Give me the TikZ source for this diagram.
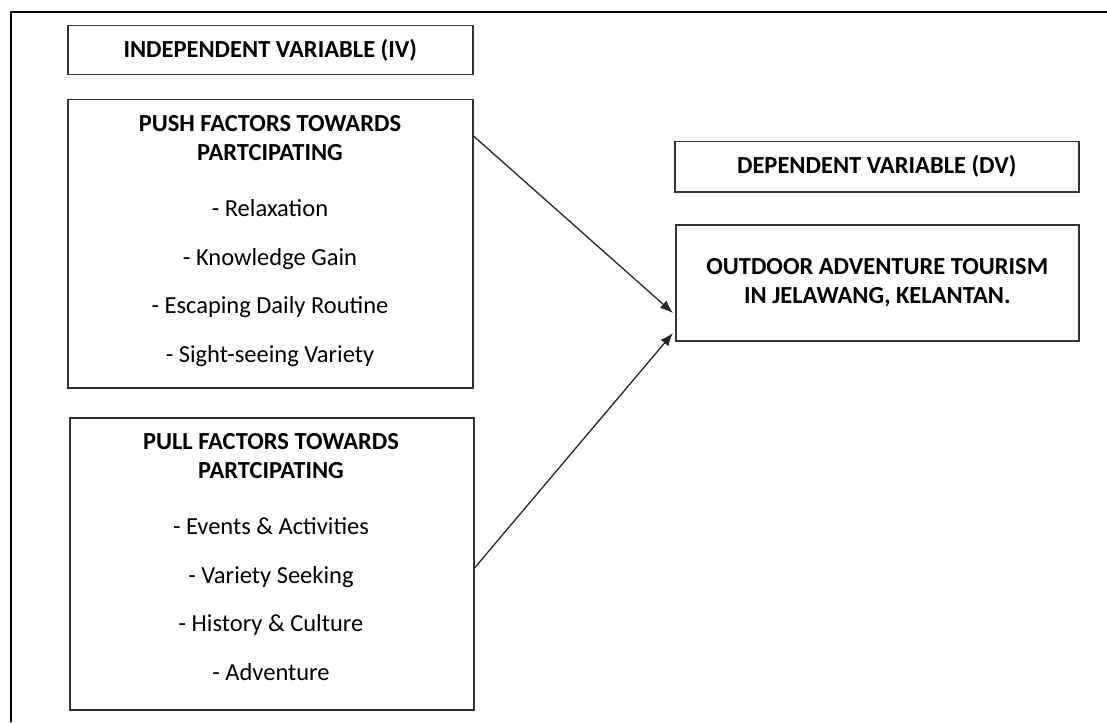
\documentclass[tikz,border=0pt]{standalone}
\usepackage{fontspec}
\setmainfont{Carlito}
\usetikzlibrary{arrows.meta}
\begin{document}
\begin{tikzpicture}[x=1pt,y=-1pt,
  box/.style={draw=black!80, line width=1.5pt, inner sep=0pt},
  hd/.style={font=\fontsize{24.5}{29}\selectfont\bfseries, align=center, inner sep=0pt},
  it/.style={font=\fontsize{24.5}{29}\selectfont, inner sep=0pt, text height=17pt, text depth=5pt},
  arr/.style={draw=black!85, line width=1.3pt, -{Latex[length=13pt,width=10pt]}}]
\useasboundingbox (0,0) rectangle (1107,722);
\draw[line width=2.2pt] (1107,12) -- (11,12) -- (11,722);
% boxes
\node[box, minimum width=405pt, minimum height=49pt, anchor=north west] (iv) at (67,25) {};
\node[box, minimum width=405pt, minimum height=288pt, anchor=north west] (push) at (67,99) {};
\node[box, minimum width=404pt, minimum height=292pt, anchor=north west] (pull) at (69,417) {};
\node[box, minimum width=404pt, minimum height=50pt, anchor=north west] (dv) at (674,141) {};
\node[box, minimum width=403pt, minimum height=116pt, anchor=north west] (out) at (675,224) {};
% texts
\node[hd] (tiv) at (iv.center) {INDEPENDENT VARIABLE (IV)};
\node[hd] (tdv) at (dv.center) {DEPENDENT VARIABLE (DV)};
\node[hd] (tout) at (out.center) {OUTDOOR ADVENTURE TOURISM\\IN JELAWANG, KELANTAN.};
\node[hd] (tpush) at (270,138) {PUSH FACTORS TOWARDS\\PARTCIPATING};
\node[it] (p1) at (270,210) {- Relaxation};
\node[it] (p2) at (270,259) {- Knowledge Gain};
\node[it] (p3) at (270,307) {- Escaping Daily Routine};
\node[it] (p4) at (270,356) {- Sight-seeing Variety};
\node[hd] (tpull) at (271,456) {PULL FACTORS TOWARDS\\PARTCIPATING};
\node[it] (q1) at (271,528) {- Events \& Activities};
\node[it] (q2) at (271,577) {- Variety Seeking};
\node[it] (q3) at (271,625) {- History \& Culture};
\node[it] (q4) at (271,674) {- Adventure};
% arrows
\coordinate (a1) at (673,313);
\coordinate (a2) at (673,333);
\draw[arr] (push.east |- 0,136) -- (a1);
\draw[arr] (pull.east |- 0,568) -- (a2);
\end{tikzpicture}
\end{document}
